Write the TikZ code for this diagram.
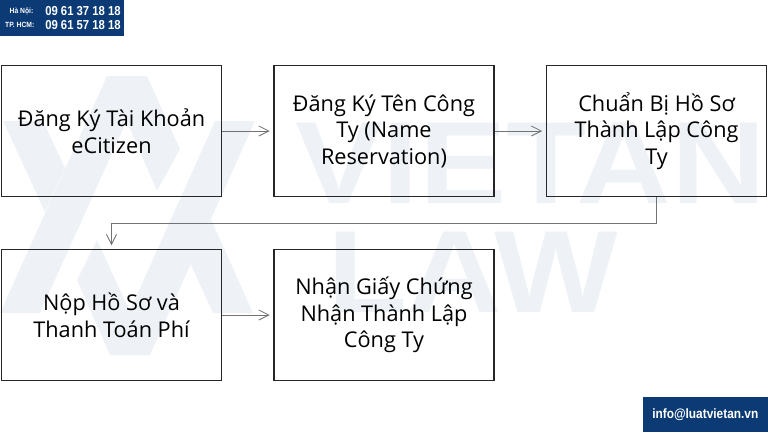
\documentclass[tikz,border=0pt]{standalone}
\usepackage{fontspec}
\setmainfont{Open Sans}
\newfontfamily\markfont{Liberation Sans}
\usetikzlibrary{positioning,arrows.meta}
\definecolor{navy}{HTML}{0B3A75}
\definecolor{wmark}{HTML}{EEF2F6}
\tikzset{
  stepbox/.style={draw=black!85, line width=1.5pt, minimum width=220pt, minimum height=131pt, inner sep=0pt, align=center, font=\fontsize{21.7}{26.6}\selectfont},
  flow/.style={draw=black!55, line width=0.8pt, shorten >=3.5pt, -{Straight Barb[length=10pt,width=10pt]}},
  wmtext/.style={text=wmark, font=\markfont\bfseries\fontsize{117}{117}\selectfont, anchor=base west, inner sep=0pt, xscale=1.12},
  numtext/.style={text=white, font=\markfont\bfseries\fontsize{13}{13}\selectfont, inner sep=0pt, xscale=0.87},
  citytext/.style={text=white, font=\markfont\bfseries\fontsize{7.5}{8}\selectfont, inner sep=0pt, xscale=0.9, anchor=east}
}
\begin{document}
\begin{tikzpicture}[x=1pt,y=-1pt]
  \useasboundingbox (0,0) rectangle (768,432);
  % WATERMARK
  \fill[wmark] (107,76) -- (147,76) -- (40,313) -- (0,313) -- cycle;
  \fill[wmark] (107,76) -- (147,76) -- (180,149) -- (157,191) -- cycle;
  \fill[wmark] (211,219) -- (253,313) -- (213,313) -- (190,263) -- cycle;
  \fill[wmark] (215,121) -- (255,121) -- (150,355) -- (110,355) -- cycle;
  \fill[wmark] (3,121) -- (43,121) -- (65,168) -- (45,212) -- cycle;
  \fill[wmark] (97,240) -- (150,355) -- (110,355) -- (77,280) -- cycle;
  \node[wmtext] (brand) at (295,203) {VIETAN};
  \node[wmtext] (law) at (327,312) {LAW};
  % BOXES
  \node[stepbox] (account) at (111.5,131) {Đăng Ký Tài Khoản\\eCitizen};
  \node[stepbox, right=51pt of account] (reserve) {Đăng Ký Tên Công\\Ty (Name\\Reservation)};
  \node[stepbox, right=51pt of reserve] (prepare) {Chuẩn Bị Hồ Sơ\\Thành Lập Công\\Ty};
  \node[stepbox, below=51.5pt of account] (submit) {Nộp Hồ Sơ và\\Thanh Toán Phí};
  \node[stepbox, right=51pt of submit] (receive) {Nhận Giấy Chứng\\Nhận Thành Lập\\Công Ty};
  % ARROWS
  \draw[flow] (account) -- (reserve);
  \draw[flow] (reserve) -- (prepare);
  \draw[flow] (prepare.south) -- ++(0,26) -| (submit.north);
  \draw[flow] (submit) -- (receive);
  % CONTACT
  \node[fill=navy, anchor=north west, minimum width=124pt, minimum height=36pt, inner sep=0pt] (phone) at (0,0) {};
  \node[citytext] (hanoi) at (33.5,11) {Hà Nội:};
  \node[citytext] (hcm) at (34.5,25) {TP. HCM:};
  \node[numtext] (hanoinum) at (83,11) {09 61 37 18 18};
  \node[numtext] (hcmnum) at (83,25) {09 61 57 18 18};
  \node[fill=navy, text=white, anchor=south east, minimum width=125pt, minimum height=35pt, inner sep=0pt] (mail) at (768,432) {};
  \node[text=white, inner sep=0pt, font=\markfont\bfseries\fontsize{13.5}{14}\selectfont, xscale=0.88] (mailtext) at (mail.center) {info@luatvietan.vn};
\end{tikzpicture}
\end{document}
